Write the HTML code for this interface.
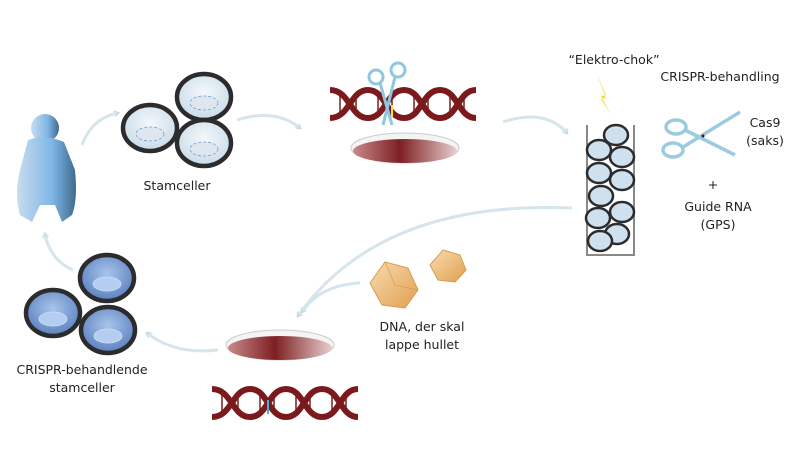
<!DOCTYPE html>
<html><head><meta charset="utf-8"><style>
html,body{margin:0;padding:0;background:#fff;}
svg{display:block;font-family:"DejaVu Sans","Liberation Sans",sans-serif;}
text{font-size:12.5px;fill:#222;}
</style></head><body>
<svg width="800" height="456" viewBox="0 0 800 456" xmlns="http://www.w3.org/2000/svg">
<defs>
<linearGradient id="baby" x1="0" x2="1"><stop offset="0" stop-color="#c8dcf0"/><stop offset="0.6" stop-color="#7fb6e6"/><stop offset="1" stop-color="#3e6a8c"/></linearGradient>
<radialGradient id="cellL" cx="0.5" cy="0.4" r="0.6"><stop offset="0" stop-color="#f4f8fb"/><stop offset="1" stop-color="#c9dbe8"/></radialGradient>
<radialGradient id="cellB" cx="0.5" cy="0.4" r="0.6"><stop offset="0" stop-color="#a8c4ea"/><stop offset="1" stop-color="#5a80bf"/></radialGradient>
<linearGradient id="dish" x1="0" x2="1"><stop offset="0" stop-color="#c98a8a"/><stop offset="0.45" stop-color="#7e1f22"/><stop offset="1" stop-color="#e8cfcf"/></linearGradient>
<linearGradient id="poly" x1="0" x2="1" y1="0" y2="1"><stop offset="0" stop-color="#f8dcae"/><stop offset="1" stop-color="#e0a050"/></linearGradient>
<marker id="ah" markerWidth="6" markerHeight="6" refX="4" refY="3" orient="auto" markerUnits="userSpaceOnUse"><path d="M0,0 L5,3 L0,6" fill="none" stroke="#c9dce6" stroke-width="1.5"/></marker>
<g id="cl"><ellipse rx="27" ry="23" fill="url(#cellL)" stroke="#2c2c2e" stroke-width="4.5"/><ellipse cy="6" rx="14" ry="7" fill="#dfe6f0" stroke="#6aa0d8" stroke-width="0.8" stroke-dasharray="3,2"/></g>
<g id="cb"><ellipse rx="27" ry="23" fill="url(#cellB)" stroke="#2c2c2e" stroke-width="4.5"/><ellipse cy="6" rx="14" ry="7" fill="#b4cdf0" stroke="#cfe0f5" stroke-width="0.8"/></g>
<g id="tc"><ellipse rx="12" ry="10" fill="#cfe0ee" stroke="#2c2c2e" stroke-width="2.5"/></g>
<g id="dna">
<path d="M0,30 C20,30 20,2 38,2 C56,2 56,30 74,30 C92,30 92,2 110,2 C128,2 128,30 146,30" fill="none" stroke="#7a1a1c" stroke-width="6"/>
<path d="M0,2 C20,2 20,30 38,30 C56,30 56,2 74,2 C92,2 92,30 110,30 C128,30 128,2 146,2" fill="none" stroke="#7a1a1c" stroke-width="6"/>
<g stroke="#7a1a1c" stroke-width="1.5"><line x1="10" y1="8" x2="10" y2="24"/><line x1="26" y1="6" x2="26" y2="27"/><line x1="48" y1="6" x2="48" y2="27"/><line x1="62" y1="6" x2="62" y2="27"/><line x1="84" y1="6" x2="84" y2="27"/><line x1="98" y1="6" x2="98" y2="27"/><line x1="120" y1="6" x2="120" y2="27"/><line x1="134" y1="6" x2="134" y2="27"/></g>
</g>
</defs>
<g fill="url(#baby)">
<circle cx="45" cy="128" r="14"/>
<path d="M28,140 Q45,134 64,142 L75,170 Q78,200 72,215 L62,222 L55,205 L40,205 L32,222 L20,215 Q14,195 20,170 Z"/>
</g>
<g fill="none" stroke="#d6e4ec" stroke-width="3" marker-end="url(#ah)">
<path d="M82,145 Q92,118 118,113"/>
<path d="M237,120 Q275,108 300,128"/>
<path d="M503,122 Q545,108 567,133"/>
<path d="M572,208 Q380,200 298,316"/>
<path d="M360,283 Q320,285 302,312"/>
<path d="M218,350 Q175,355 147,333"/>
<path d="M73,270 Q50,260 45,234"/>
</g>
<use href="#cl" x="150" y="128"/><use href="#cl" x="204" y="97"/><use href="#cl" x="204" y="143"/>
<text x="177" y="190" text-anchor="middle">Stamceller</text>
<use href="#dna" x="330" y="88"/>
<g stroke="#8fc7e0" stroke-width="3" fill="none"><circle cx="376" cy="77" r="7"/><circle cx="398" cy="70" r="7"/><line x1="380" y1="83" x2="392" y2="125"/><line x1="395" y1="77" x2="383" y2="125"/></g>
<line x1="392" y1="105" x2="392" y2="118" stroke="#f2e040" stroke-width="2"/>
<ellipse cx="405" cy="148" rx="54" ry="15" fill="#f4f4f4" stroke="#ccc"/>
<ellipse cx="405" cy="151" rx="52" ry="12" fill="url(#dish)"/>
<path d="M587,125 L587,255 L634,255 L634,125" fill="none" stroke="#888" stroke-width="2"/>
<use href="#tc" x="616" y="135"/><use href="#tc" x="599" y="150"/><use href="#tc" x="622" y="157"/><use href="#tc" x="599" y="173"/><use href="#tc" x="622" y="180"/><use href="#tc" x="601" y="196"/><use href="#tc" x="622" y="212"/><use href="#tc" x="598" y="218"/><use href="#tc" x="617" y="234"/><use href="#tc" x="600" y="241"/>
<text x="614" y="64" text-anchor="middle">“Elektro-chok”</text>
<path d="M596,72 L606,95 L601,96 L611,115 L601,99 L606,98 Z" fill="#f0e040"/>
<text x="720" y="81" text-anchor="middle">CRISPR-behandling</text>
<g stroke="#9bcbe0" stroke-width="3.5" fill="none"><ellipse cx="673" cy="150" rx="10" ry="7"/><ellipse cx="676" cy="127" rx="10" ry="7"/><line x1="683" y1="147" x2="740" y2="112"/><line x1="685" y1="130" x2="735" y2="155"/></g>
<circle cx="703" cy="136" r="1.5" fill="#222"/>
<text x="765" y="127" text-anchor="middle">Cas9</text><text x="765" y="145" text-anchor="middle">(saks)</text>
<text x="713" y="189" text-anchor="middle">+</text>
<text x="718" y="211" text-anchor="middle">Guide RNA</text><text x="718" y="229" text-anchor="middle">(GPS)</text>
<polygon points="385,262 408,268 418,290 405,308 382,305 370,283" fill="url(#poly)" stroke="#d99a50"/>
<polyline points="385,262 395,285 418,290 M395,285" fill="none" stroke="#d99a50" stroke-width="0.7"/>
<polygon points="443,250 460,255 466,270 455,282 438,280 430,265" fill="url(#poly)" stroke="#d99a50"/>
<text x="422" y="331" text-anchor="middle">DNA, der skal</text><text x="422" y="349" text-anchor="middle">lappe hullet</text>
<ellipse cx="280" cy="345" rx="54" ry="15" fill="#f4f4f4" stroke="#ccc"/>
<ellipse cx="280" cy="348" rx="52" ry="12" fill="url(#dish)"/>
<use href="#dna" x="212" y="387"/>
<line x1="268" y1="400" x2="268" y2="414" stroke="#4ab0d8" stroke-width="2"/>
<use href="#cb" x="107" y="278"/><use href="#cb" x="53" y="313"/><use href="#cb" x="108" y="330"/>
<text x="82" y="374" text-anchor="middle">CRISPR-behandlende</text><text x="82" y="392" text-anchor="middle">stamceller</text>
</svg>
</body></html>
